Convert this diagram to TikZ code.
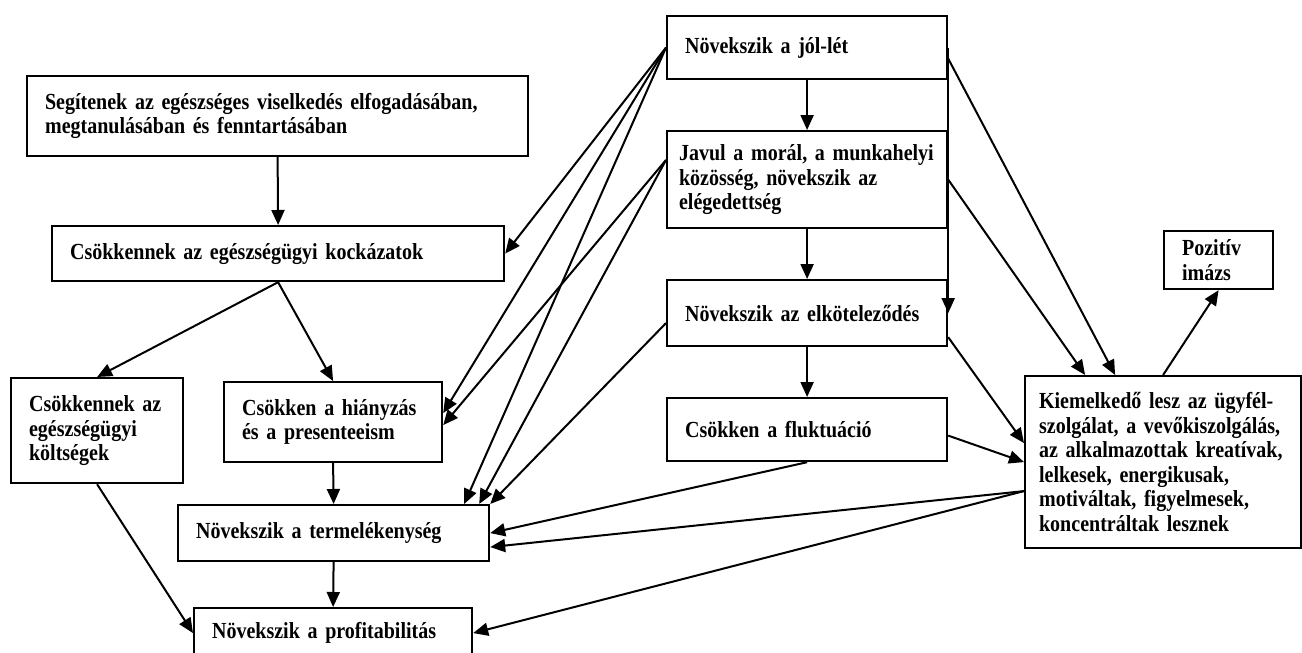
\documentclass[tikz,border=0pt]{standalone}
\usepackage{fontspec}
\setmainfont{Liberation Serif}[FakeStretch=0.87]
\usetikzlibrary{arrows.meta,calc}

\newcommand\boxfont{\fontsize{23}{24.5}\selectfont\bfseries
    \fontdimen2\font=4.8pt\frenchspacing}

\begin{document}
\begin{tikzpicture}[
    x=1pt, y=-1pt,
    >={Triangle[length=15pt,width=13pt]},
    box/.style={
        draw,
        line width=2.2pt,
        anchor=north west,
        inner xsep=18pt,
        align=left,
        font=\boxfont
    },
    arr/.style={
        ->,
        line width=2pt
    }
]
    \useasboundingbox (0,0) rectangle (1302,653);

    \node[box, text width=465pt, minimum height=80pt] (seg) at (26,75)
        {Segítenek az egészséges viselkedés elfogadásában,\\
        megtanulásában és fenntartásában};

    \node[box, text width=416pt, minimum height=55pt] (risk) at (51,225)
        {Csökkennek az egészségügyi kockázatok};

    \node[box, text width=136pt, minimum height=105pt] (cost) at (10,377)
        {Csökkennek az\\egészségügyi\\költségek};

    \node[box, text width=182pt, minimum height=80pt] (absent) at (223,381)
        {Csökken a hiányzás\\és a presenteeism};

    \node[box, text width=275pt, minimum height=56pt] (prod) at (177,504)
        {Növekszik a termelékenység};

    \node[box, text width=242pt, minimum height=50pt] (profit) at (193,607)
        {Növekszik a profitabilitás};

    \node[box, text width=244pt, minimum height=63pt] (well) at (666,15)
        {Növekszik a jól-lét};

    \node[box, inner xsep=12pt, text width=256pt, minimum height=97pt] (moral) at (666,130)
        {Javul a morál, a munkahelyi\\
        közösség, növekszik az\\
        elégedettség};

    \node[box, text width=244pt, minimum height=66pt] (commit) at (666,279)
        {Növekszik az elköteleződés};

    \node[box, text width=244pt, minimum height=63pt] (fluct) at (666,397)
        {Csökken a fluktuáció};

    \node[box, text width=73pt, minimum height=58pt] (image) at (1163,230)
        {Pozitív\\imázs};

    \node[box, inner xsep=14pt, text width=248pt, minimum height=172pt] (excel) at (1024,375)
        {Kiemelkedő lesz az ügyfél-\\
        szolgálat, a vevőkiszolgálás,\\
        az alkalmazottak kreatívak,\\
        lelkesek, energikusak,\\
        motiváltak, figyelmesek,\\
        koncentráltak lesznek};

    % Segédpontok a ferde nyilakhoz
    \coordinate (wellout) at ($(well.east)+(0,11)$);
    \coordinate (moralout) at ($(moral.north west)+(0,30)$);
    \coordinate (commitleft) at ($(commit.west)+(0,10)$);
    \coordinate (commitright) at ($(commit.south east)+(0,-10)$);
    \coordinate (fluctout) at ($(fluct.east)+(0,6)$);
    \coordinate (excelin) at ($(excel.west)+(0,-19)$);
    \coordinate (excelout) at ($(excel.west)+(0,29)$);
    \coordinate (exceltopa) at ($(excel.north)+(-78,0)$);
    \coordinate (exceltopb) at ($(excel.north)+(-48,0)$);
    \coordinate (absentup) at ($(absent.east)+(0,-9)$);
    \coordinate (absentdown) at ($(absent.east)+(0,3)$);
    \coordinate (prodtopa) at ($(prod.north east)+(-26,0)$);
    \coordinate (prodtopb) at ($(prod.north east)+(-11,0)$);
    \coordinate (prodright) at ($(prod.east)+(0,14)$);

    \draw[arr] (seg.south) -- (risk.north);
    \draw[arr] (risk.south) -- (cost.north);
    \draw[arr] (risk.south) -- (absent.north);
    \draw[arr] (absent.south) -- (prod.north);
    \draw[arr] (prod.south) -- (profit.north);
    \draw[arr] (cost.south) -- (profit.west);

    \draw[arr] (well.south) -- (moral.north);
    \draw[arr] (moral.south) -- (commit.north);
    \draw[arr] (commit.south) -- (fluct.north);
    \draw[arr] (well.east) -- (commit.east);

    \draw[arr] (well.west) -- (risk.east);
    \draw[arr] (well.west) -- (absentup);
    \draw[arr] (well.west) -- (prodtopa);
    \draw[arr] (moralout) -- (absentdown);
    \draw[arr] (moralout) -- (prodtopb);
    \draw[arr] (commitleft) -- (prod.north east);

    \draw[arr] (wellout) -- (exceltopb);
    \draw[arr] (moral.east) -- (exceltopa);
    \draw[arr] (commitright) -- (excelin);
    \draw[arr] (fluctout) -- (excel.west);
    \draw[arr] (excel.north) -- (image.south);

    \draw[arr] (fluct.south) -- (prod.east);
    \draw[arr] (excelout) -- (prodright);
    \draw[arr] (excelout) -- (profit.east);
\end{tikzpicture}
\end{document}
